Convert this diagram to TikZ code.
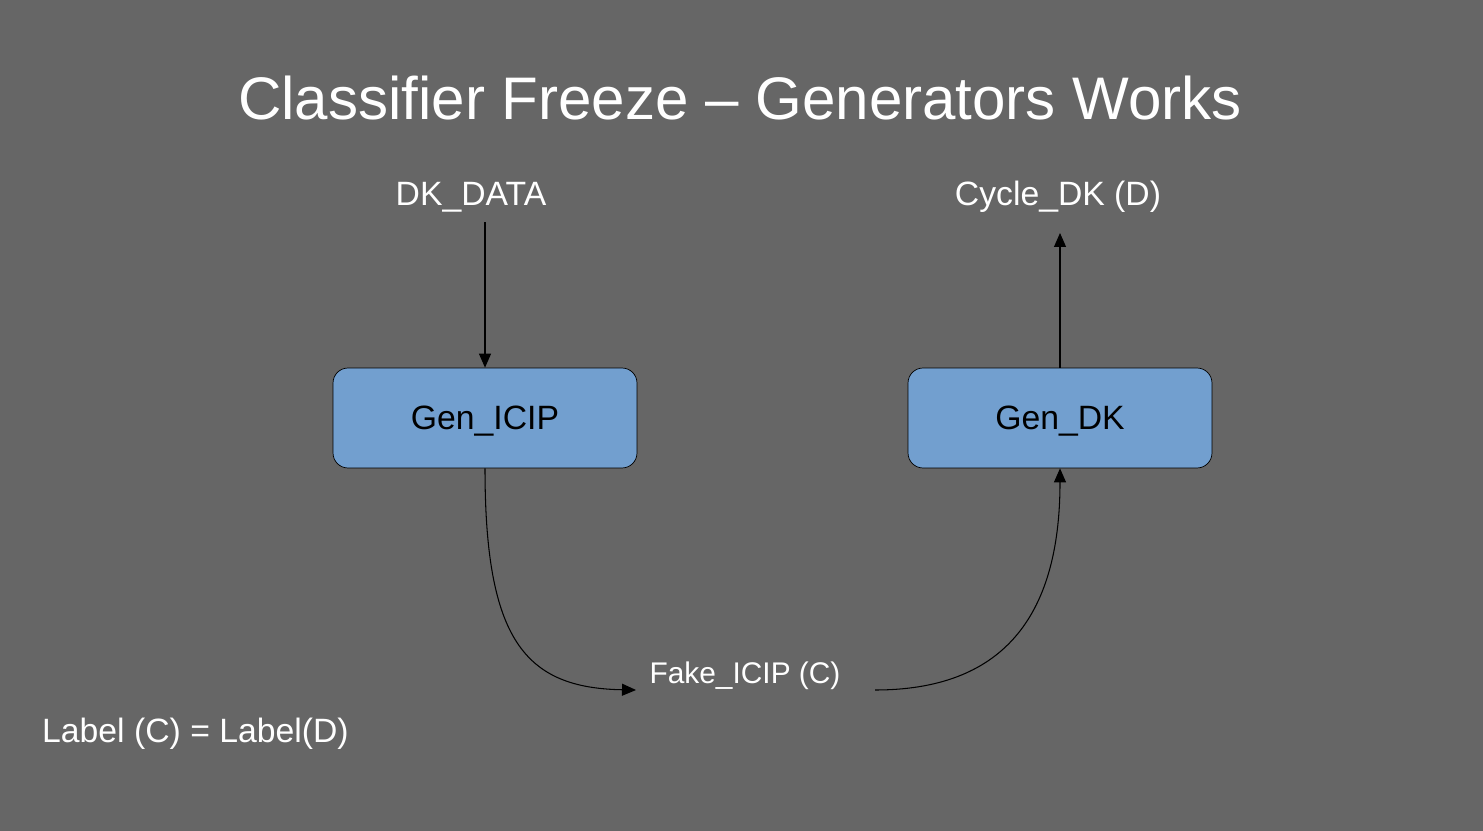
\documentclass[tikz,border=0pt]{standalone}
\usepackage{fontspec}
\setmainfont{Liberation Sans}
\usetikzlibrary{arrows.meta}
\definecolor{slidebg}{HTML}{666666}
\definecolor{genblue}{HTML}{729FCF}
\tikzset{
  genbox/.style={draw=black, fill=genblue, rounded corners=0.3cm, minimum width=6.08cm, minimum height=2cm, text depth=0pt, font=\fontsize{19.2}{23}\selectfont, text=black},
  lbl/.style={text=white, font=\fontsize{19.2}{23}\selectfont},
  flow/.style={line width=0.6pt, -{Triangle[length=0.28cm,width=0.24cm]}}
}
\begin{document}
\begin{tikzpicture}[x=0.02cm,y=-0.02cm]
\fill[slidebg] (0,0) rectangle (1483,831);
\useasboundingbox (0,0) rectangle (1483,831);

\node[text=white, font=\fontsize{34.2}{40}\selectfont] (title) at (740,98) {Classifier Freeze -- Generators Works};

\node[genbox] (icip) at (485,418) {Gen\_ICIP};
\node[genbox] (gdk) at (1060,418) {Gen\_DK};
\node[lbl] (dkdata) at (471,197) {DK\_DATA};
\node[lbl] (cycle) at (1058,197) {Cycle\_DK (D)};
\node[lbl, font=\fontsize{17}{21}\selectfont] (fake) at (745,676) {Fake\_ICIP (C)};
\node[lbl, anchor=west] (eq) at (36,734) {Label (C) = Label(D)};

\coordinate (dkout) at (485,222);
\coordinate (cyin) at (1060,233);
\coordinate (fakein) at (636,690);
\coordinate (fakeout) at (875,690);

\draw[flow] (dkout) -- (icip.north);
\draw[flow] (gdk.north) -- (cyin);
\draw[flow] (icip.south) .. controls (485,640) and (525,688) .. (fakein);
\draw[flow] (fakeout) .. controls (1000,690) and (1060,620) .. (gdk.south);
\end{tikzpicture}
\end{document}
